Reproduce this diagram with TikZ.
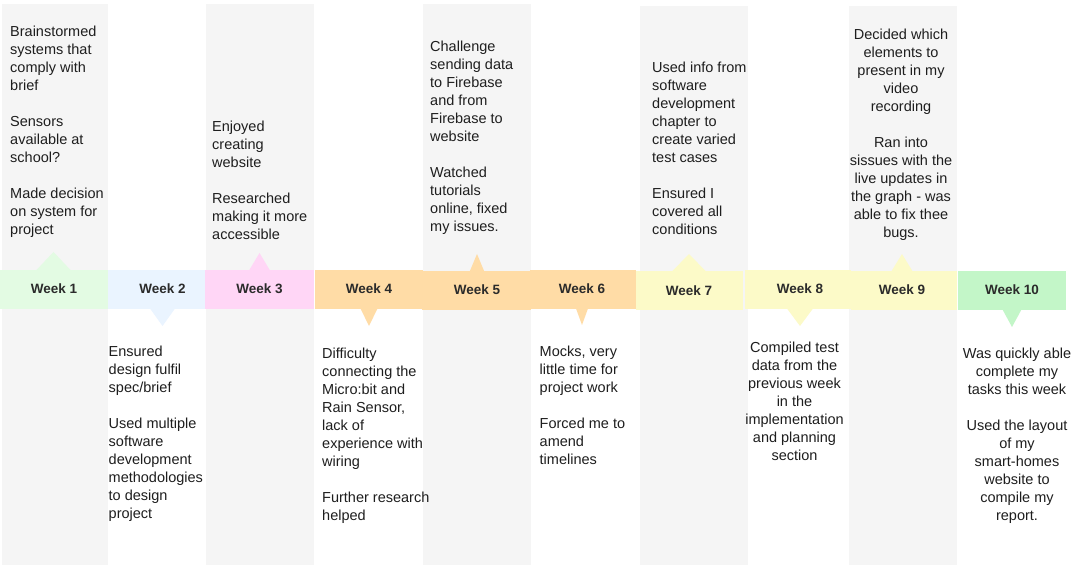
\documentclass[tikz,border=0pt]{standalone}
\usepackage{fontspec}
\setmainfont{Liberation Sans}
\definecolor{gpanel}{HTML}{F5F5F5}
\definecolor{cwa}{HTML}{E3FBE3}
\definecolor{cwb}{HTML}{EAF4FF}
\definecolor{cwc}{HTML}{FFD6F6}
\definecolor{cwd}{HTML}{FFDCA6}
\definecolor{cwg}{HTML}{FCFAC8}
\definecolor{cwj}{HTML}{C3F6C8}
\definecolor{labeltext}{HTML}{2B2B2B}
\definecolor{notetext}{HTML}{1E1E1E}
\begin{document}
\begin{tikzpicture}[x=1pt,y=-1pt,
  panel/.style={fill=gpanel},
  wlabel/.style={font=\fontsize{13.5}{16}\selectfont\bfseries, text=labeltext, inner sep=0pt},
  note/.style={font=\fontsize{14.5}{18}\selectfont, text=notetext, inner sep=0pt, align=left, anchor=north west},
  notec/.style={note, align=center, anchor=north}]
\useasboundingbox (0,0) rectangle (1080,572);
\fill[white] (0,0) rectangle (1080,572);
% grey columns
\fill[panel] (2,4) rectangle (108,565);
\fill[panel] (206,4) rectangle (314,565);
\fill[panel] (423,4) rectangle (531,565);
\fill[panel] (640,6) rectangle (748,565);
\fill[panel] (849,6) rectangle (957,565);
% band segments
\fill[cwa] (0,270) rectangle (108,309);
\fill[cwb] (108,270) rectangle (205,309);
\fill[cwc] (205,270) rectangle (314,309);
\fill[cwd] (315,270) rectangle (423,309);
\fill[cwd] (422,271.5) rectangle (531,310);
\fill[cwd] (530,270) rectangle (636,309);
\fill[cwg] (636,271.5) rectangle (743,310);
\fill[cwg] (745,270) rectangle (851,309);
\fill[cwg] (851,271.5) rectangle (957,310);
\fill[cwj] (958,271.5) rectangle (1066,310);
% pointers
\fill[cwa] (36,270.5) -- (53.5,252) -- (71,270.5) -- cycle;
\fill[cwb] (150,308.5) -- (162.5,326) -- (175,308.5) -- cycle;
\fill[cwc] (249,270.5) -- (259.5,253) -- (270,270.5) -- cycle;
\fill[cwd] (360.5,308.5) -- (369,326) -- (377.5,308.5) -- cycle;
\fill[cwd] (469.5,272) -- (477,254) -- (484.5,272) -- cycle;
\fill[cwd] (576,308.5) -- (582,325) -- (588,308.5) -- cycle;
\fill[cwg] (671.5,272) -- (689,254) -- (706.5,272) -- cycle;
\fill[cwg] (787,308.5) -- (800,326) -- (813,308.5) -- cycle;
\fill[cwg] (891,272) -- (902,254) -- (913,272) -- cycle;
\fill[cwj] (1002.5,309.5) -- (1012,327) -- (1021.5,309.5) -- cycle;
% week labels
\node[wlabel] (w1) at (54,289) {Week 1};
\node[wlabel] (w2) at (162.5,289) {Week 2};
\node[wlabel] (w3) at (259.5,289) {Week 3};
\node[wlabel] (w4) at (369,288.5) {Week 4};
\node[wlabel] (w5) at (477,290) {Week 5};
\node[wlabel] (w6) at (582,288.5) {Week 6};
\node[wlabel] (w7) at (689,291) {Week 7};
\node[wlabel] (w8) at (800,288.5) {Week 8};
\node[wlabel] (w9) at (902,290) {Week 9};
\node[wlabel] (w10) at (1012,290) {Week 10};
% notes above
\node[note] (n1) at (10,26) {Brainstormed\\systems that\\comply with\\brief\\[18pt]Sensors\\available at\\school?\\[18pt]Made decision\\on system for\\project};
\node[note] (n3) at (212,121) {Enjoyed\\creating\\website\\[18pt]Researched\\making it more\\accessible};
\node[note] (n5) at (430,41) {Challenge\\sending data\\to Firebase\\and from\\Firebase to\\website\\[18pt]Watched\\tutorials\\online, fixed\\my issues.};
\node[note] (n7) at (652,62) {Used info from\\software\\development\\chapter to\\create varied\\test cases\\[18pt]Ensured I\\covered all\\conditions};
\node[notec] (n9) at (901,29) {Decided which\\elements to\\present in my\\video\\recording\\[18pt]Ran into\\sissues with the\\live updates in\\the graph - was\\able to fix thee\\bugs.};
% notes below
\node[note] (n2) at (108.5,346) {Ensured\\design fulfil\\spec/brief\\[18pt]Used multiple\\software\\development\\methodologies\\to design\\project};
\node[note] (n4) at (322,348) {Difficulty\\connecting the\\Micro:bit and\\Rain Sensor,\\lack of\\experience with\\wiring\\[18pt]Further research\\helped};
\node[note] (n6) at (539.5,346) {Mocks, very\\little time for\\project work\\[18pt]Forced me to\\amend\\timelines};
\node[notec] (n8) at (794.5,342) {Compiled test\\data from the\\previous week\\in the\\implementation\\and planning\\section};
\node[notec] (n10) at (1017,348) {Was quickly able\\complete my\\tasks this week\\[18pt]Used the layout\\of my\\smart-homes\\website to\\compile my\\report.};
\end{tikzpicture}
\end{document}
